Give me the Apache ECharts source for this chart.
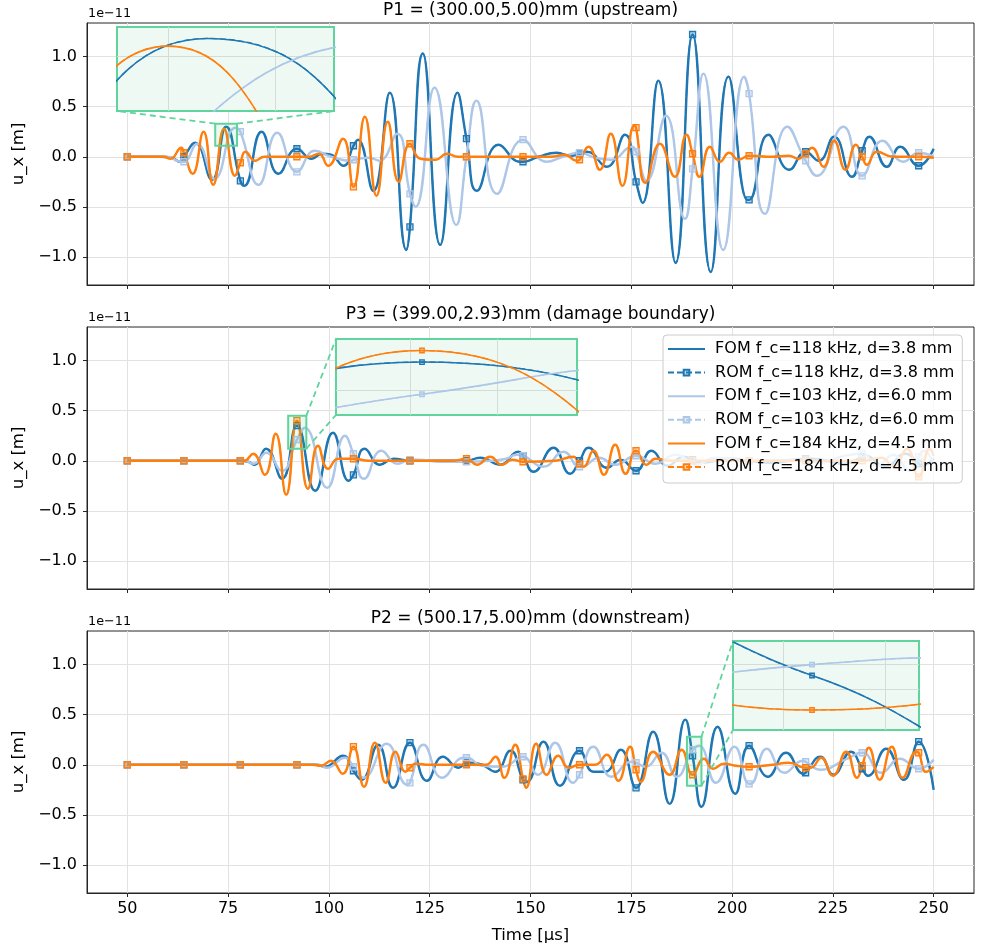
<!DOCTYPE html>
<html><head><meta charset="utf-8">
<script src="https://cdn.jsdelivr.net/npm/echarts@6/dist/echarts.min.js"></script>
<style>html,body{margin:0;padding:0;background:#fff}#c{width:981px;height:951px}</style>
</head><body><div id="c"></div><script>
// ---------- DATA (values in units of 1e-11 m, time in µs) ----------
const MARK_T = [50,64.02,78.04,92.06,106.08,120.1,134.12,148.14,162.16,176.18,190.2,204.22,218.24,232.26,246.28];
const X_TICKS = [50,75,100,125,150,175,200,225,250];
const Y_TICKS = [-1,-0.5,0,0.5,1];
const NAMES = ['FOM f_c=118 kHz, d=3.8 mm','ROM f_c=118 kHz, d=3.8 mm','FOM f_c=103 kHz, d=6.0 mm','ROM f_c=103 kHz, d=6.0 mm','FOM f_c=184 kHz, d=4.5 mm','ROM f_c=184 kHz, d=4.5 mm'];
const TITLES = ['P1 = (300.00,5.00)mm (upstream)','P3 = (399.00,2.93)mm (damage boundary)','P2 = (500.17,5.00)mm (downstream)'];

// P1 (upstream)
const P1_FOM_118 = [[50,0],[58,0],[61,-0.01],[63.0,-0.05],[66.8,0.14],[71.0,-0.23],[74.5,0.30],[79.0,-0.29],[83.3,0.25],[87.5,-0.17],[91.9,0.10],[95.7,-0.02],[98.3,0.03],[100.5,0.02],[103.6,-0.09],[107.2,0.17],[111.0,-0.34],[115.1,0.64],[119.2,-0.93],[123.3,1.03],[127.6,-0.88],[131.9,0.64],[136.7,-0.34],[142.1,0.12],[147.4,-0.05],[152.0,0.0],[156.5,0.04],[160.0,0.01],[164.0,0.05],[168.9,-0.10],[173.4,0.22],[177.8,-0.46],[181.7,0.76],[186.0,-1.06],[190.1,1.22],[194.7,-1.15],[199.1,0.80],[203.8,-0.43],[209.0,0.22],[214.2,-0.13],[218.2,0.05],[221.5,-0.04],[225.3,0.20],[229.7,-0.20],[234.0,0.20],[238.4,-0.10],[241.7,0.10],[246.3,-0.09],[250,0.08]];
const P1_ROM_118_MARKS = [0,0.0,-0.24,0.08,0.11,-0.70,0.18,-0.05,0.03,-0.25,1.22,-0.43,0.05,0.06,-0.09];
const P1_FOM_103 = [[50,0],[60,0],[63.2,-0.05],[67.3,0.13],[71.6,-0.22],[76.8,0.29],[82.6,-0.28],[87.2,0.24],[91.9,-0.16],[96.5,0.06],[100.5,0.0],[105.6,-0.04],[110,-0.01],[112.5,-0.04],[116.9,0.23],[121.5,-0.50],[126.2,0.69],[131.6,-0.68],[136.6,0.56],[141.7,-0.37],[148.1,0.18],[154.0,-0.05],[158.0,0.0],[162.0,0.04],[166.0,-0.01],[170.0,-0.03],[175.2,0.10],[178.8,-0.24],[183.6,0.41],[188.3,-0.62],[192.9,0.83],[197.8,-0.93],[203.0,0.80],[208.2,-0.57],[213.7,0.30],[221.0,-0.19],[227.6,0.30],[232.6,-0.20],[237.3,0.16],[242.5,-0.05],[246.3,0.04],[250,0.0]];
const P1_ROM_103_MARKS = [0,-0.05,0.25,-0.15,-0.03,-0.37,0.0,0.17,0.04,0.05,-0.12,0.63,-0.04,-0.19,0.04];
const P1_FOM_184 = [[50,0],[59,0],[60.7,-0.02],[63.4,0.09],[66.2,-0.17],[68.9,0.25],[71.3,-0.28],[74.0,0.28],[76.7,-0.19],[79.3,0.05],[81.7,-0.04],[84,0.0],[95,0.0],[97.5,0.03],[99.8,-0.09],[103.5,0.18],[106.2,-0.30],[108.9,0.40],[111.8,-0.39],[114.6,0.35],[117.3,-0.25],[120.0,0.13],[122.7,-0.02],[126.4,-0.03],[129.3,0.03],[132,0.0],[155,0.0],[158.5,0.02],[161.5,-0.04],[164.4,0.10],[167.2,-0.13],[169.9,0.23],[172.8,-0.29],[175.7,0.31],[178.5,-0.26],[182.1,0.13],[185.8,-0.20],[188.7,0.22],[191.9,-0.20],[194.5,0.10],[197.0,-0.05],[199.3,0.04],[201.6,-0.03],[204.5,0.01],[210,0.0],[214,0.01],[216.5,-0.02],[219.8,0.09],[222.7,-0.10],[225.3,0.16],[228.1,-0.13],[230.7,0.12],[233.4,-0.08],[235.9,0.05],[240,0.0],[250,-0.01]];
const P1_ROM_184_MARKS = [0,0.04,-0.06,0.0,-0.30,0.13,0.0,0.0,-0.03,0.29,0.03,0.01,0.03,0.0,0.0];

// P3 (damage boundary)
const P3_FOM_118 = [[50,0],[78,0],[80,-0.01],[81.5,-0.04],[84.4,0.12],[88.4,-0.18],[92.4,0.37],[96.6,-0.30],[101.0,0.28],[104.9,-0.20],[108.9,0.12],[112.6,-0.04],[116,0.02],[120,0.0],[133,0.0],[137.5,0.03],[142.5,-0.04],[147.0,0.09],[150.7,-0.11],[155.7,0.13],[159.8,-0.13],[164.4,0.13],[169.0,-0.07],[172.3,0.01],[176.2,-0.10],[180.0,0.10],[184.0,-0.05],[188.0,0.04],[192.0,-0.02],[200,0.02],[210,-0.02],[220,0.02],[228,-0.03],[233,0.05],[238,-0.06],[243,0.07],[247,-0.05],[250,0.02]];
const P3_ROM_118_MARKS = [0,0,0,0.35,-0.14,0.0,0.0,0.05,0.0,-0.10,0.01,0.0,0.02,0.04,-0.03];
const P3_FOM_103 = [[50,0],[79,0],[81.3,-0.03],[84.5,0.08],[88.3,-0.10],[94.0,0.33],[99.6,-0.27],[104.0,0.25],[108.7,-0.18],[113.0,0.10],[117.0,-0.03],[122,0.01],[128,-0.01],[140,0.0],[144,0.02],[146.5,0.06],[153.2,-0.06],[158.2,0.09],[162.6,-0.06],[167,0.03],[171,-0.04],[176,0.05],[181,-0.03],[186,0.06],[191,-0.04],[196,0.03],[205,0.0],[215,0.01],[222,-0.02],[227,0.04],[232,0.07],[236,-0.05],[240,0.06],[244,-0.10],[247.5,0.10],[250,-0.03]];
const P3_ROM_103_MARKS = [0,0,0,0.21,0.07,0.01,-0.01,0.05,-0.06,0.05,-0.03,0.0,0.0,0.07,0.04];
const P3_FOM_184 = [[50,0],[79,0],[81.2,0.07],[84.1,-0.14],[86.8,0.27],[89.4,-0.34],[92.0,0.41],[94.8,-0.28],[97.3,0.15],[99.8,-0.08],[102.3,0.02],[106.1,0.02],[110,0.0],[131,0.0],[134.1,0.02],[136.7,-0.04],[140.0,0.04],[142.9,-0.04],[145.5,0.01],[148.1,-0.01],[156,0.0],[160.6,0.04],[163.1,-0.06],[165.6,0.10],[168.2,-0.14],[171.0,0.16],[173.6,-0.13],[176.2,0.10],[178.8,-0.04],[181,0.02],[185,0.0],[232,0.0],[237,0.03],[240,-0.06],[243.4,0.12],[246.3,-0.16],[249,0.12],[250,0.05]];
const P3_ROM_184_MARKS = [0,0,0,0.40,0.02,0.0,0.02,-0.01,-0.03,0.10,0.0,0.0,0.0,0.0,-0.16];

// P2 (downstream)
const P2_FOM_118 = [[50,0],[97,0],[99,-0.02],[103.5,0.09],[108.1,-0.15],[112.2,0.20],[115.9,-0.23],[120.2,0.22],[124.3,-0.16],[128.3,0.08],[132.2,-0.03],[135,0.02],[138,0.0],[141.3,-0.07],[145.0,0.14],[149.1,-0.17],[153.2,0.23],[157.3,-0.21],[162.1,0.15],[165.6,-0.07],[168.5,-0.07],[172.4,0.15],[176.3,-0.24],[180.4,0.33],[184.5,-0.39],[188.4,0.45],[192.4,-0.42],[196.4,0.38],[200.8,-0.29],[204.5,0.20],[208.9,-0.12],[213.4,0.12],[217.7,-0.09],[221.9,0.08],[225.1,-0.10],[229.5,0.13],[233.7,-0.11],[238.2,0.16],[242.6,-0.15],[246.3,0.23],[250,-0.25]];
const P2_ROM_118_MARKS = [0,0,0,0,-0.06,0.22,0.02,-0.15,0.14,-0.23,0.09,0.19,-0.08,-0.04,0.23];
const P2_FOM_103 = [[50,0],[97,0],[99.5,-0.03],[104,0.07],[108.5,-0.13],[114.3,0.21],[119.4,-0.20],[123.5,0.20],[128.1,-0.13],[133.4,0.07],[138,-0.01],[143,-0.02],[148.3,0.08],[151.8,-0.10],[156.1,0.22],[160.6,-0.18],[165.6,0.18],[170.1,-0.12],[175,0.03],[178.5,-0.02],[182.5,0.12],[186.2,-0.12],[191.8,0.19],[196,-0.18],[200.6,0.18],[204.6,-0.19],[208.6,0.16],[213,-0.08],[217.5,0.04],[222,-0.05],[228,0.05],[232.3,0.12],[237,-0.08],[241.6,0.06],[246.3,-0.04],[250,0.05]];
const P2_ROM_103_MARKS = [0,0,0,0,-0.02,-0.18,0.07,0.08,-0.10,0.02,0.15,-0.19,0.03,0.12,-0.04];
const P2_FOM_184 = [[50,0],[96,0],[98,-0.01],[100.5,0.04],[103.4,-0.09],[106.2,0.18],[108.7,-0.22],[111.4,0.22],[114.1,-0.18],[116.5,0.13],[119,-0.07],[121.5,0.01],[125,0.0],[139,0.0],[141.3,0.08],[143.5,-0.13],[146.2,0.20],[148.9,-0.23],[151.4,0.21],[154,-0.10],[156.9,0.09],[159.5,-0.03],[162.2,0.0],[166,0.0],[168.9,0.10],[171.8,-0.16],[174.7,0.18],[177.3,-0.17],[180.4,0.13],[184.5,-0.10],[187.5,0.15],[190.3,-0.11],[193.0,0.06],[195.3,-0.04],[198,0.01],[201,-0.01],[204.2,-0.02],[210,0.0],[214,0.02],[218.2,-0.03],[219.5,-0.03],[222.1,0.07],[225,-0.11],[228.3,0.13],[231,-0.13],[233.9,0.17],[236.6,-0.15],[239.6,0.18],[242.3,-0.13],[245.7,0.13],[248.1,-0.07],[250,-0.02]];
const P2_ROM_184_MARKS = [0,0,0,0,0.18,-0.03,0.0,-0.14,0.0,-0.05,-0.10,-0.02,-0.03,-0.01,0.12];

// highlighted boxes on the main axes and zoomed inset windows [tMin, tMax, vMin, vMax]
const ZOOM_BOXES = [[71.8,77.2,0.11,0.33],[89.9,94.4,0.12,0.45],[188.8,192.4,-0.21,0.28]];
const INSET_WINDOWS = [[73.35,76.1,0.11,0.33],[91.4,93.25,0.12,0.45],[189.52,191.12,-0.21,0.28]];
const INSET_GRID_X = [[74.0,75.36],[91.97,92.64],[189.95,190.83]];
const INSET_GRID_Y = [[0.253],[0.226],[0.015,0.15]];

// ---------- CHART ----------
const FONT = 'DejaVu Sans';
const GREEN = '#5fd49d';
const COLORS = ['#1f77b4','#aec7e8','#ff7f0e'];
const MFILL = ['rgba(31,119,180,0.3)','rgba(174,199,232,0.3)','rgba(255,127,14,0.3)'];
const PANELS = [
  {curves:[P1_FOM_118,P1_FOM_103,P1_FOM_184], marks:[P1_ROM_118_MARKS,P1_ROM_103_MARKS,P1_ROM_184_MARKS]},
  {curves:[P3_FOM_118,P3_FOM_103,P3_FOM_184], marks:[P3_ROM_118_MARKS,P3_ROM_103_MARKS,P3_ROM_184_MARKS]},
  {curves:[P2_FOM_118,P2_FOM_103,P2_FOM_184], marks:[P2_ROM_118_MARKS,P2_ROM_103_MARKS,P2_ROM_184_MARKS]}
];
const MAIN_GRIDS = [{left:87,top:23,width:887,height:262},{left:87,top:327,width:887,height:262},{left:87,top:631,width:887,height:262}];
const INSET_GRIDS = [{left:117,top:27,width:217,height:84},{left:336,top:339,width:241,height:76},{left:733,top:641,width:186,height:89}];

function merge(curve, marks){
  const pts = curve.filter(p => !MARK_T.some(m => Math.abs(m - p[0]) < 0.35)).map(p => ({v:[p[0],p[1]], m:false}));
  MARK_T.forEach((t,i) => pts.push({v:[t, marks[i]], m:true}));
  pts.sort((a,b) => a.v[0] - b.v[0]);
  return pts;
}

const series = [];
for (let p = 0; p < 3; p++) {
  [p, p + 3].forEach(ax => {
    const inset = ax >= 3;
    for (let k = 0; k < 3; k++) {
      const pts = merge(PANELS[p].curves[k], PANELS[p].marks[k]);
      const c = COLORS[k];
      series.push({
        type:'line', name:NAMES[2*k], xAxisIndex:ax, yAxisIndex:ax,
        data: pts.map(q => q.v), smooth:0.5, symbol:'none', showSymbol:false,
        lineStyle:{color:c, width: inset ? 1.6 : 2.4}, itemStyle:{color:'transparent'},
        clip:true, silent:true, z: inset ? 5 : 2
      });
      series.push({
        type:'line', name:NAMES[2*k+1], xAxisIndex:ax, yAxisIndex:ax,
        data: pts.map(q => q.m ? {value:q.v} : {value:q.v, symbol:'none'}),
        smooth:0.5, symbol:'rect', symbolSize: inset ? 4.5 : 6, showSymbol:true, showAllSymbol:true,
        lineStyle:{color:c, width: inset ? 1.2 : 1.5, type:[6,3]},
        itemStyle:{color:MFILL[k], borderColor:c, borderWidth:1.3},
        clip:true, silent:true, z: inset ? 5 : 2
      });
    }
  });
}

const tickFmt = v => (v < 0 ? '\u2212' : '') + Math.abs(v).toFixed(1);
const xAxes = [], yAxes = [];
for (let p = 0; p < 3; p++) {
  xAxes.push({gridIndex:p, type:'value', min:40, max:260, z:1,
    axisLine:{show:true, onZero:false, lineStyle:{color:'#262626', width:1}},
    axisTick:{show:true, inside:false, length:4, customValues:X_TICKS, lineStyle:{color:'#262626', width:1}},
    axisLabel:{show:p === 2, customValues:X_TICKS, color:'#000', fontSize:16, margin:8, fontFamily:FONT},
    splitLine:{show:true, lineStyle:{color:'#e2e2e2', width:1}},
    name: p === 2 ? 'Time [\u03bcs]' : '', nameLocation:'middle', nameGap:34,
    nameTextStyle:{color:'#000', fontSize:16.5, fontFamily:FONT}});
  yAxes.push({gridIndex:p, type:'value', min:-1.28, max:1.335, z:1,
    axisLine:{show:true, onZero:false, lineStyle:{color:'#262626', width:1}},
    axisTick:{show:true, inside:false, length:4, customValues:Y_TICKS, lineStyle:{color:'#262626', width:1}},
    axisLabel:{customValues:Y_TICKS, formatter:tickFmt, color:'#000', fontSize:16, margin:10, fontFamily:FONT},
    splitLine:{show:true, lineStyle:{color:'#e2e2e2', width:1}},
    name:'u_x [m]', nameLocation:'middle', nameGap:55,
    nameTextStyle:{color:'#000', fontSize:16.5, fontFamily:FONT}});
}
for (let p = 0; p < 3; p++) {
  const w = INSET_WINDOWS[p];
  xAxes.push({gridIndex:3+p, type:'value', min:w[0], max:w[1], z:4,
    axisLine:{show:false}, axisLabel:{show:false},
    axisTick:{show:false, customValues:INSET_GRID_X[p]},
    splitLine:{show:true, lineStyle:{color:'#d3ddd6', width:1}}});
  yAxes.push({gridIndex:3+p, type:'value', min:w[2], max:w[3], z:4,
    axisLine:{show:false}, axisLabel:{show:false},
    axisTick:{show:false, customValues:INSET_GRID_Y[p]},
    splitLine:{show:true, lineStyle:{color:'#d3ddd6', width:1}}});
}

const chart = echarts.init(document.getElementById('c'), null, {renderer:'canvas', width:981, height:951});
chart.setOption({
  animation:false,
  backgroundColor:'#fff',
  textStyle:{fontFamily:FONT},
  grid:[
    ...MAIN_GRIDS.map(g => Object.assign({show:true, borderColor:'#262626', borderWidth:1, backgroundColor:'transparent', z:1, containLabel:false, outerBoundsMode:'none'}, g)),
    ...INSET_GRIDS.map(g => Object.assign({show:true, borderColor:GREEN, borderWidth:2, backgroundColor:'#edf9f2', z:3, containLabel:false, outerBoundsMode:'none'}, g))
  ],
  xAxis:xAxes, yAxis:yAxes,
  legend:{data:NAMES, orient:'vertical', left:663, top:335, itemWidth:37, itemHeight:7, itemGap:7.6,
    padding:[6,8,8,4], borderColor:'#cccccc', borderWidth:1, borderRadius:4, backgroundColor:'rgba(255,255,255,0.8)',
    textStyle:{fontSize:16, color:'#000', fontFamily:FONT}, formatter:n => ' ' + n,
    selectedMode:false, z:20},
  series
});

// ---------- annotations computed through the axes ----------
const P = (ax, t, v) => chart.convertToPixel({xAxisIndex:ax, yAxisIndex:ax}, [t, v]);
const gfx = [];
for (let p = 0; p < 3; p++) {
  const g = MAIN_GRIDS[p];
  gfx.push({type:'text', x:g.left + g.width/2, y:g.top - 12, z:30,
    style:{text:TITLES[p], fontSize:17, fontFamily:FONT, fill:'#000', align:'center', verticalAlign:'middle'}});
  gfx.push({type:'text', x:g.left + 1, y:g.top - 9, z:30,
    style:{text:'1e\u221211', fontSize:12.8, fontFamily:FONT, fill:'#000', align:'left', verticalAlign:'middle'}});
  const b0 = ZOOM_BOXES[p], w = INSET_WINDOWS[p];
  const a = P(p, b0[0], b0[3]), b = P(p, b0[1], b0[2]);
  gfx.push({type:'rect', z:12, shape:{x:a[0], y:a[1], width:b[0]-a[0], height:b[1]-a[1]},
    style:{fill:'rgba(46,204,113,0.10)', stroke:GREEN, lineWidth:2}});
  const ia = P(3+p, w[0], w[3]), ib = P(3+p, w[1], w[2]);
  let pairs;
  if (p === 0) pairs = [[[a[0],a[1]],[ia[0],ib[1]]],[[b[0],a[1]],[ib[0],ib[1]]]];
  else pairs = [[[b[0],a[1]],[ia[0],ia[1]]],[[b[0],b[1]],[ia[0],ib[1]]]];
  pairs.forEach(pr => gfx.push({type:'line', z:11,
    shape:{x1:pr[0][0], y1:pr[0][1], x2:pr[1][0], y2:pr[1][1]},
    style:{stroke:GREEN, lineWidth:1.8, lineDash:[6,4]}}));
}
chart.setOption({graphic:gfx});
</script></body></html>
